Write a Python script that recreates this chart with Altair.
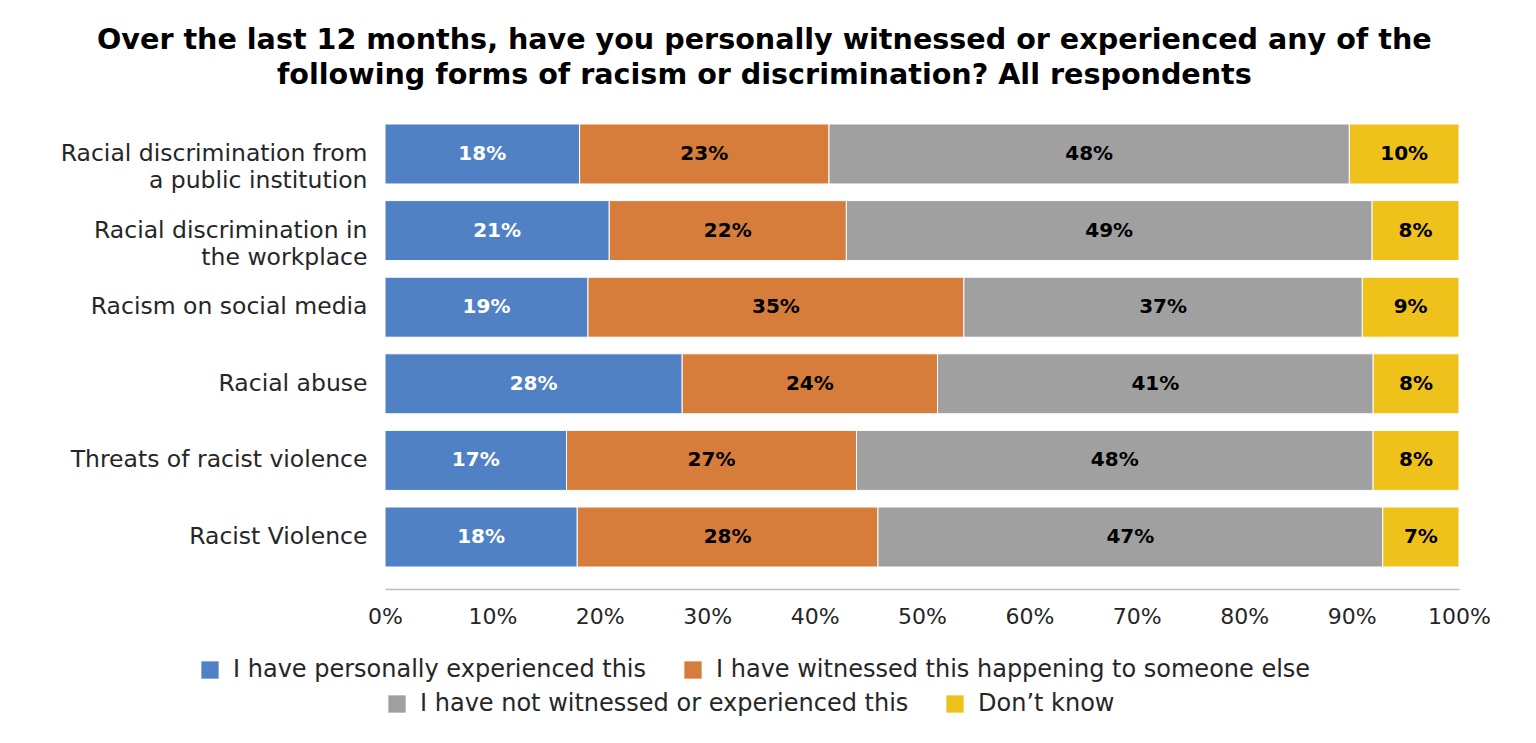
import altair as alt
import pandas as pd

categories = [
    "Racial discrimination from|a public institution",
    "Racial discrimination in|the workplace",
    "Racism on social media",
    "Racial abuse",
    "Threats of racist violence",
    "Racist Violence",
]
series = [
    "I have personally experienced this",
    "I have witnessed this happening to someone else",
    "I have not witnessed or experienced this",
    "Don’t know",
]
experienced = [18.1, 20.9, 18.9, 27.7, 16.9, 17.9]
witnessed = [23.2, 22.1, 35.0, 23.8, 27.0, 28.0]
not_witnessed = [48.4, 49.0, 37.1, 40.6, 48.1, 47.0]
dont_know = [10.2, 8.1, 9.0, 8.0, 8.0, 7.1]
colors = ["#4f81c4", "#d77d3b", "#a0a0a0", "#efc21b"]
x_ticks = [0, 0.1, 0.2, 0.3, 0.4, 0.5, 0.6, 0.7, 0.8, 0.9, 1.0]

rows = []
for s_i, (name, vals) in enumerate(zip(series, [experienced, witnessed, not_witnessed, dont_know])):
    for c, v in zip(categories, vals):
        rows.append({"row": c, "series": name, "order": s_i, "value": v})
df = pd.DataFrame(rows)

LABEL_FONT = "DejaVu Sans"
TITLE_FONT = "DejaVu Sans"
TXT = "#262626"

base = alt.Chart(df).transform_stack(
    stack="value", groupby=["row"], as_=["x0", "x1"], offset="normalize",
    sort=[alt.SortField("order", order="ascending")],
)

y_enc = alt.Y(
    "row:N", sort=categories, title=None,
    scale=alt.Scale(paddingInner=0.217, paddingOuter=0.287),
    axis=alt.Axis(labelExpr="split(datum.label, '|')", labelFontSize=23.5, labelLineHeight=27,
                  labelPadding=18, ticks=False, domain=False, labelColor=TXT,
                  labelFont=LABEL_FONT, labelLimit=500, labelFontWeight="normal"),
)
x_enc = alt.X(
    "x0:Q", title=None,
    scale=alt.Scale(domain=[0, 1], nice=False),
    axis=alt.Axis(format=".0%", values=x_ticks, labelFontSize=22, labelPadding=17, ticks=False,
                  grid=False, domainColor="#bfbfbf", domainWidth=1.5, labelColor=TXT,
                  labelFont=LABEL_FONT, labelFontWeight="normal", labelFlush=False),
)

def legend(x, y):
    return alt.Legend(orient="none", legendX=x, legendY=y, direction="horizontal", title=None,
                      symbolType="square", symbolSize=300, symbolStrokeWidth=0, labelFontSize=24,
                      labelFont=LABEL_FONT, labelColor=TXT, columnPadding=34, labelLimit=800,
                      symbolOpacity=1, labelFontWeight="normal", labelOffset=11)

bars_a = base.transform_filter("datum.order < 2").mark_bar(stroke="white", strokeWidth=1).encode(
    x=x_enc, x2="x1:Q", y=y_enc,
    color=alt.Color("series:N", scale=alt.Scale(domain=series[:2], range=colors[:2]),
                    legend=legend(-187, 556)),
)
bars_b = base.transform_filter("datum.order >= 2").mark_bar(stroke="white", strokeWidth=1).encode(
    x=x_enc, x2="x1:Q", y=y_enc,
    color=alt.Color("series:N", scale=alt.Scale(domain=series[2:], range=colors[2:]),
                    legend=legend(0, 590)),
)
text = base.transform_calculate(
    mid="(datum.x0 + datum.x1) / 2",
    label="format(datum.value, '.0f') + '%'",
).mark_text(font=LABEL_FONT, fontSize=20, fontWeight="bold").encode(
    x=alt.X("mid:Q"), y=alt.Y("row:N", sort=categories),
    text="label:N",
    color=alt.condition("datum.order == 0", alt.value("white"), alt.value("black")),
)

chart = alt.layer(bars_a, bars_b, text).resolve_scale(color="independent").properties(
    width=1074, height=487,
    title=alt.TitleParams(
        ["Over the last 12 months, have you personally witnessed or experienced any of the",
         "following forms of racism or discrimination? All respondents"],
        font=TITLE_FONT, fontSize=28.6, fontWeight="bold", anchor="middle", frame="bounds",
        offset=12, lineHeight=35, color="black", dx=-11),
    padding={"left": 377, "top": 94, "right": 60, "bottom": 140},
    autosize=alt.AutoSizeParams(type="none"),
).configure_view(stroke=None)

chart.save("out.html", embed_options={"renderer": "svg", "actions": False})
